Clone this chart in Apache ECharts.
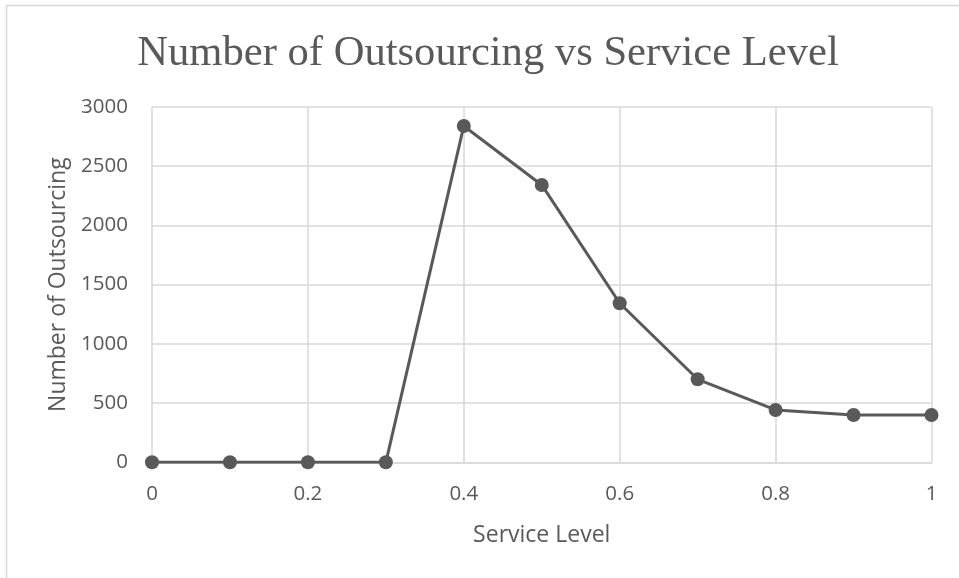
<!DOCTYPE html>
<html>
<head>
<meta charset="utf-8">
<script src="https://cdn.jsdelivr.net/npm/echarts@6/dist/echarts.min.js"></script>
<style>
  html, body { margin: 0; padding: 0; background: #fff; }
  #chart { width: 959px; height: 578px; }
</style>
</head>
<body>
<div id="chart"></div>
<script>
// Service level (x) and number of outsourced units (y)
const serviceLevels = [0, 0.1, 0.2, 0.3, 0.4, 0.5, 0.6, 0.7, 0.8, 0.9, 1];
const outsourcing = [0, 0, 0, 0, 2840, 2342, 1343, 701, 442, 400, 400];

const titleText = 'Number of Outsourcing vs Service Level';
const xAxisTitle = 'Service Level';
const yAxisTitle = 'Number of Outsourcing';

const textColor = '#595959';
const gridColor = '#d9d9d9';
const sansFont = '"Open Sans", "Noto Sans", sans-serif';

const chart = echarts.init(document.getElementById('chart'), null, { renderer: 'canvas' });

chart.setOption({
  backgroundColor: '#ffffff',
  animation: false,
  graphic: [{
    type: 'rect',
    shape: { x: 6.5, y: 5.5, width: 1000, height: 700 },
    style: { fill: 'none', stroke: gridColor, lineWidth: 1.5 },
    silent: true,
    z: -10
  }],
  title: {
    text: titleText,
    left: 483,
    top: 27,
    textAlign: 'center',
    textStyle: {
      fontFamily: '"Liberation Serif", "Times New Roman", serif',
      fontWeight: 'normal',
      fontSize: 42.6,
      color: textColor
    }
  },
  grid: { left: 152, right: 27.5, top: 107, bottom: 115.7 },
  xAxis: {
    type: 'value',
    min: 0,
    max: 1,
    interval: 0.2,
    name: xAxisTitle,
    nameLocation: 'middle',
    nameGap: 73,
    nameTextStyle: { fontFamily: sansFont, fontSize: 23, color: textColor, verticalAlign: 'middle' },
    axisLine: { show: true, lineStyle: { color: gridColor, width: 1.5 } },
    axisTick: { show: false },
    axisLabel: {
      margin: 21,
      fontFamily: sansFont,
      fontSize: 20.5,
      color: textColor,
      formatter: v => String(Math.round(v * 10) / 10)
    },
    splitLine: { show: true, lineStyle: { color: gridColor, width: 1.5 } }
  },
  yAxis: {
    type: 'value',
    min: 0,
    max: 3000,
    interval: 500,
    name: yAxisTitle,
    nameLocation: 'middle',
    nameGap: 94,
    nameRotate: 90,
    nameTextStyle: { fontFamily: sansFont, fontSize: 23, color: textColor, verticalAlign: 'middle' },
    axisLine: { show: false },
    axisTick: { show: false },
    axisLabel: {
      margin: 24,
      fontFamily: sansFont,
      fontSize: 20.5,
      color: textColor,
      formatter: v => String(v)
    },
    splitLine: { show: true, lineStyle: { color: gridColor, width: 1.5 } }
  },
  series: [{
    type: 'line',
    data: serviceLevels.map((x, i) => [x, outsourcing[i]]),
    symbol: 'circle',
    symbolSize: 14,
    lineStyle: { color: '#595959', width: 3 },
    itemStyle: { color: '#595959' },
    z: 5
  }]
});
</script>
</body>
</html>
